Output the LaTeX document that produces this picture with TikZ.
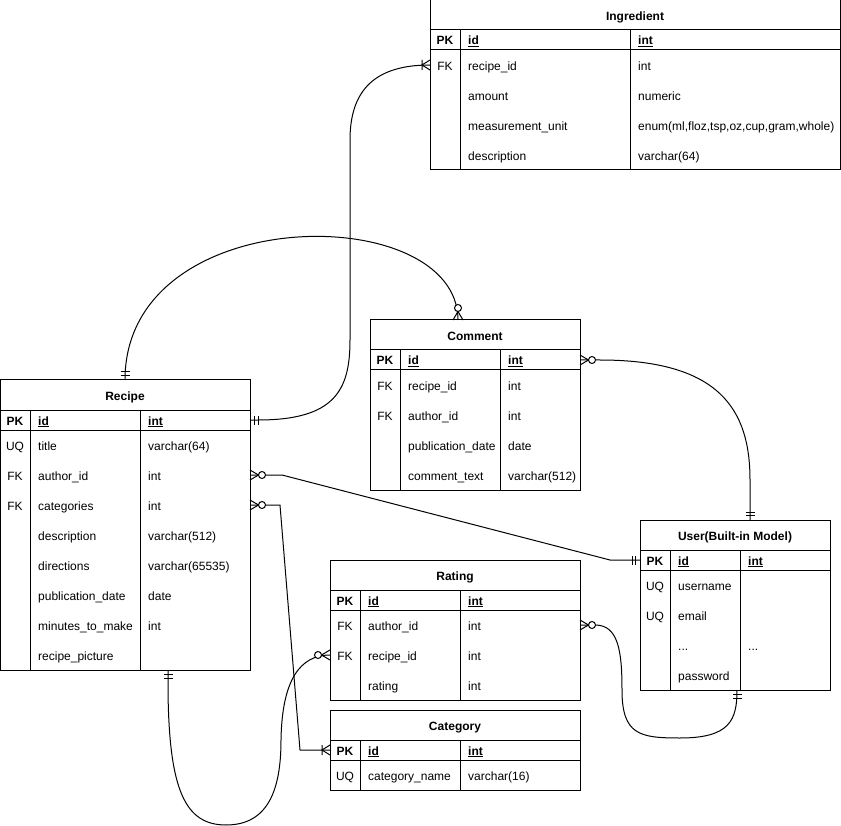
\documentclass[tikz,border=0pt]{standalone}
\usepackage{fontspec}
\setmainfont{Liberation Sans}
\usetikzlibrary{calc}
\tikzset{
  tb/.style={draw, line width=1pt},
  conn/.style={draw, line width=1pt},
  txt/.style={inner sep=0pt, font=\fontsize{12}{14}\selectfont},
  hdr/.style={inner sep=0pt, font=\fontsize{12}{14}\selectfont\bfseries},
}
\newcommand{\ertab}[8]{%
  \pgfmathsetmacro{\erbot}{#6+50+30*#7}
  \draw[tb] (#2,#6) rectangle (#5,\erbot);
  \draw[tb] (#2,{#6+30}) -- (#5,{#6+30}) (#2,{#6+50}) -- (#5,{#6+50});
  \draw[tb] (#3,{#6+30}) -- (#3,\erbot) (#4,{#6+30}) -- (#4,\erbot);
  \node[hdr, anchor=base] (#1) at ({(#2+#5)/2},{#6+20.2}) {#8};
  \node[hdr, anchor=base] (#1-pk) at ({(#2+#3)/2},{#6+45}) {PK};
  \node[hdr, anchor=base west] (#1-id) at ({#3+8},{#6+45}) {\underline{id}};
  \node[hdr, anchor=base west] (#1-int) at ({#4+8},{#6+45}) {\underline{int}};
}
\newcommand{\errow}[8]{%
  \node[txt, anchor=base] (#1-k) at ({(#2+#3)/2},{#5+5.1}) {#6};
  \node[txt, anchor=base west] (#1-f) at ({#3+8},{#5+5.1}) {#7};
  \node[txt, anchor=base west] (#1-t) at ({#4+8},{#5+5.1}) {#8};
}
\newcommand{\mandone}[2]{\begin{scope}[shift={(#1)},rotate=#2]
  \draw[tb] (4.5,-4.5)--(4.5,4.5) (8,-4.5)--(8,4.5);\end{scope}}
\newcommand{\zeromany}[2]{\begin{scope}[shift={(#1)},rotate=#2]
  \draw[tb] (0,-5)--(8.5,0)--(0,5);
  \draw[tb, fill=white] (12,0) circle (3.5pt);\end{scope}}
\newcommand{\onemany}[2]{\begin{scope}[shift={(#1)},rotate=#2]
  \draw[tb] (0,-5)--(8,0)--(0,5) (8,-5)--(8,5);\end{scope}}
\begin{document}
\begin{tikzpicture}[x=1pt,y=-1pt]
\useasboundingbox (0,0) rectangle (841,826);
\fill[white] (0,0) rectangle (841,826);

% Ingredient
\ertab{ing}{430}{460}{630}{840}{0}{4}{Ingredient}
\errow{ing1}{430}{460}{630}{65}{FK}{recipe\_id}{int}
\errow{ing2}{430}{460}{630}{95}{}{amount}{numeric}
\errow{ing3}{430}{460}{630}{125}{}{measurement\_unit}{enum(ml,floz,tsp,oz,cup,gram,whole)}
\errow{ing4}{430}{460}{630}{155}{}{description}{varchar(64)}

% Recipe
\ertab{rec}{0}{30}{140}{250}{380}{8}{Recipe}
\errow{rec1}{0}{30}{140}{445}{UQ}{title}{varchar(64)}
\errow{rec2}{0}{30}{140}{475}{FK}{author\_id}{int}
\errow{rec3}{0}{30}{140}{505}{FK}{categories}{int}
\errow{rec4}{0}{30}{140}{535}{}{description}{varchar(512)}
\errow{rec5}{0}{30}{140}{565}{}{directions}{varchar(65535)}
\errow{rec6}{0}{30}{140}{595}{}{publication\_date}{date}
\errow{rec7}{0}{30}{140}{625}{}{minutes\_to\_make}{int}
\errow{rec8}{0}{30}{140}{655}{}{recipe\_picture}{}

% Comment
\ertab{com}{370}{400}{500}{580}{320}{4}{Comment}
\errow{com1}{370}{400}{500}{385}{FK}{recipe\_id}{int}
\errow{com2}{370}{400}{500}{415}{FK}{author\_id}{int}
\errow{com3}{370}{400}{500}{445}{}{publication\_date}{date}
\errow{com4}{370}{400}{500}{475}{}{comment\_text}{varchar(512)}

% User
\ertab{usr}{640}{670}{740}{830}{520}{4}{User(Built-in Model)}
\errow{usr1}{640}{670}{740}{585}{UQ}{username}{}
\errow{usr2}{640}{670}{740}{615}{UQ}{email}{}
\errow{usr3}{640}{670}{740}{645}{}{...}{...}
\errow{usr4}{640}{670}{740}{675}{}{password}{}

% Rating
\ertab{rat}{330}{360}{460}{580}{560}{3}{Rating}
\errow{rat1}{330}{360}{460}{625}{FK}{author\_id}{int}
\errow{rat2}{330}{360}{460}{655}{FK}{recipe\_id}{int}
\errow{rat3}{330}{360}{460}{685}{}{rating}{int}

% Category
\ertab{cat}{330}{360}{460}{580}{710}{1}{Category}
\errow{cat1}{330}{360}{460}{775}{UQ}{category\_name}{varchar(16)}

% attachment points
\coordinate (recR1) at (250,420);
\coordinate (recR2) at (250,475);
\coordinate (recR3) at (250,505);
\coordinate (recT) at (125,380);
\coordinate (recB) at (168,670);
\coordinate (ingL) at (430,65);
\coordinate (comT) at (458,320);
\coordinate (comR) at (580,360);
\coordinate (usrT) at (750,520);
\coordinate (usrL) at (640,560);
\coordinate (usrB) at (737,690);
\coordinate (ratL) at (330,655);
\coordinate (ratR) at (580,625);
\coordinate (catL) at (330,750);

% connectors
\draw[conn] (recR1) -- ++(8,0) .. controls (335,420) and (350,390) .. (350,340)
  -- (350,140) .. controls (350,90) and (375,65) .. (ingL);
\draw[conn] (recT) .. controls (125,200) and (458,200) .. (comT);
\draw[conn] (comR) -- ++(20,0) .. controls (720,360) and (750,410) .. (750,480) -- (usrT);
\draw[conn] (recR2) -- (282,475) -- (610,560) -- (usrL);
\draw[conn] (recR3) -- (280,505) -- (300,750) -- (catL);
\draw[conn] (recB) -- (168,690) .. controls (169,790) and (185,825) .. (226,825)
  .. controls (268,825) and (281,790) .. (281,740) .. controls (282,680) and (300,655) .. (ratL);
\draw[conn] (ratR) -- ++(15,0) .. controls (618,625) and (622,650) .. (622,690)
  .. controls (622,735) and (640,738) .. (680,738) .. controls (730,738) and (737,720) .. (usrB);

% end marks
\mandone{recR1}{0}
\onemany{ingL}{180}
\mandone{recT}{90}
\zeromany{comT}{90}
\zeromany{comR}{0}
\mandone{usrT}{90}
\zeromany{recR2}{0}
\mandone{usrL}{180}
\zeromany{recR3}{0}
\onemany{catL}{180}
\mandone{recB}{-90}
\zeromany{ratL}{180}
\zeromany{ratR}{0}
\mandone{usrB}{-90}
\end{tikzpicture}
\end{document}
